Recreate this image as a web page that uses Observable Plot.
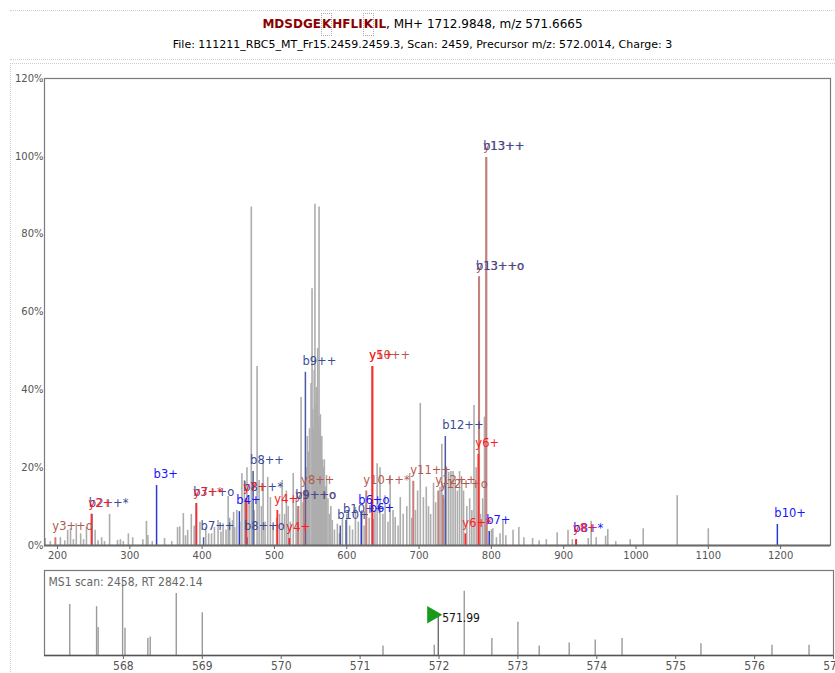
<!DOCTYPE html>
<html><head><meta charset="utf-8">
<script src="https://cdn.jsdelivr.net/npm/d3@7"></script>
<script src="https://cdn.jsdelivr.net/npm/@observablehq/plot@0.6"></script>
<style>
body{margin:0;background:#fff;font-family:"DejaVu Sans",sans-serif;}
#wrap{position:relative;width:835px;height:673px;overflow:hidden;background:#fff;}
#hdr{position:absolute;left:10px;top:10px;width:840px;height:48px;border-top:1px dotted #ccc;border-bottom:1px dotted #ccc;}
#bodybox{position:absolute;left:10px;top:63px;width:840px;height:640px;border-top:1px dotted #ccc;border-left:1px dotted #ccc;}
#title{position:absolute;left:0;width:845px;top:17px;text-align:center;font-size:12px;color:#000;white-space:nowrap;}
#title .seq{color:#8b0000;font-weight:bold;}
#title .mod{border:1px dotted #aaa;padding:3px 0px 4px 0px;}
#sub{position:absolute;left:0;width:845px;top:38px;text-align:center;font-size:11px;color:#000;white-space:nowrap;}
#main{position:absolute;left:0;top:63px;}
#ms1{position:absolute;left:0;top:565px;}
</style>
</head><body>
<div id="wrap">
  <div id="hdr"></div>
  <div id="bodybox"></div>
  <div id="title"><span class="seq">MDSDGE<span class="mod">K</span>HFLI<span class="mod">K</span>IL</span>, MH+ 1712.9848, m/z 571.6665</div>
  <div id="sub">File: 111211_RBC5_MT_Fr15.2459.2459.3, Scan: 2459, Precursor m/z: 572.0014, Charge: 3</div>
  <div id="main"></div>
  <div id="ms1"></div>
</div>
<script>
// ---------- MS2 spectrum: unannotated peaks ----------
const grayMz = [183,190,204,210,214,218,222,226,232,236,240,252,256,261,265,272,283,287,291,298,304,318,323,325,331,348,358,366,369,374,377,380,385,389,397,405,409,413,417,422,426,429,433,436,438,442,443.5,445,448,452,455,458.5,462,465,468,472,476,478.8,482,484.3,487,490.7,494.4,498,503,507,510.6,514,516.5,519,522,526,530,533,536.8,539.5,544,545.5,547,548.5,550.6,552,553,554,555,556,557,558,559,559.8,560.8,561.7,562.6,563.5,564.5,565.5,566.5,567.5,569,570.5,572,574,576,578,580,583,587,590,594,600,604,608,612,616,621,624,627,631,639,642,646,650,653,657,660,664,667,671,674,678,683,687,690,695,698,701.7,706,710,713,716,720,723,729,731.5,734,738,741,744,747,750,753,756,759,761.5,766,770,773,776,779,785,788,790.5,794,800,802,807,812,816,820,830,838,845,857,866,876,891,906,912,934,938,945,958,961,972,992,1010,1057,1100];
const grayInt = [1.8,1.0,2.0,1.2,3.9,4.3,1.5,5.6,3.0,1.5,4.6,3.9,1.2,2.0,1.0,8.0,1.3,1.5,1.0,3.0,2.0,1.5,6.2,2.6,1.0,1.8,1.0,4.6,4.8,8.2,2.5,3.9,8.0,5.0,6.0,4.6,3.0,3.0,4.6,6.4,3.5,5.6,4,12.6,7,6.4,8.5,4.6,9,6,18.5,16.7,20,11,87,9,46,16.7,10,21.8,6,17.5,12.3,5,7,8,16.7,8,14,10,6,18.5,12,9,38,11,20,28,24,30,41.6,66,35,30,45,87.7,36,40.6,32,50.6,33,87,30,33.6,25,28,22,20,22,15,18,12,8,10,6.4,4,5.5,3,7,8,5,4,9.8,6,9,5,10.8,7,9,21,20,8,12.8,6,18,9,7.2,5,12.3,8,10,18.5,7,9,14,36.5,12.3,15,10,8,16,11,15,26,12,20,18.8,19,19,16.7,14,19,17,14,10,12,9,36,20,8,12,33,6,4,4.3,2,3,6.4,2.5,3.9,4.6,2,1.8,1.2,1.5,3.3,3.9,1.5,1.8,6.2,2,2.4,4.1,1,1.5,4.3,12.8,4.3];

// ---------- MS2 spectrum: annotated fragment ions ----------
const annLabel = ["y3++o","y9++o","y8++","y10++*","y10++","y11++","y12++","y12++o","y13++o","y13++",
                  "b2++*","b7++o","b7++","b8++*","b8++o","b8++","b9++o","b9++","b10+","b10++","b12++","b13++o","b13++",
                  "b3+","b4+","b6+o","b6+","b7+","b8+*","b10+",
                  "y2+","y3+*","y7+","y4+","y4+","y5+","y6+*","y6+","y8+"];
const annMz = [197,533,541,627,635.4,692,726.6,733,783,793,
               247.5,392,402,461,462,470.5,533,542.8,591,599,736.3,783,793,
               337,451.5,620,636,797,917.5,1195.5,
               247,392,461,504,520.6,635.4,764,782,917];
const annInt = [2,10,14,14,46,16.5,14,12.9,69,99.7,
                8,10.8,2,12,2,19,10,44.5,5,6.4,28,69,99.7,
                15.4,8.7,8.7,6.7,3.6,1.5,5.4,
                8,10.8,12,9,1.8,46,3,23.4,1.5];
const annType = ["y++","y++","y++","y++","y++","y++","y++","y++","y++","y++",
                 "b++","b++","b++","b++","b++","b++","b++","b++","b++","b++","b++","b++","b++",
                 "b+","b+","b+","b+","b+","b+","b+",
                 "y+","y+","y+","y+","y+","y+","y+","y+","y+"];
const typeColor = {"b+":"#1515ff","b++":"#3a4b98","y+":"#ff1a1a","y++":"#b35a50"};
const lineColor = {"b+":"#2a3ad0","b++":"#4a5aa0","y+":"#ff2a2a","y++":"#c98078"};
const lineWidth = {"b+":1.5,"b++":1.5,"y+":1.8,"y++":2};
const lineOrder = ["b++","b+","y++","y+"];

const mainTicks = [200,300,400,500,600,700,800,900,1000,1100,1200];
const yTicks = [0,20,40,60,80,100,120];

// ---------- MS1 precursor scan ----------
const ms1Mz = [567.32,567.66,567.68,567.99,568.02,568.31,568.34,568.67,569.0,571.29,571.94,572.32,572.67,573.0,573.27,573.65,573.98,574.32,575.32,576.22,576.69];
const ms1Int = [0.69,0.66,0.38,1.0,0.37,0.23,0.25,0.84,0.58,0.13,0.14,0.87,0.23,0.45,0.13,0.17,0.21,0.23,0.16,0.14,0.14];
const precMz = [571.99];
const precInt = [0.55];
const precLabel = ["571.99"];
const ms1Ticks = [568,569,570,571,572,573,574,575,576,577];
const ms1Info = "MS1 scan: 2458, RT 2842.14";

// ---------- build ----------
const gray = grayMz.map((m,i)=>({mz:m, int:grayInt[i]}));
const ann = annLabel.map((l,i)=>({label:l, mz:annMz[i], int:annInt[i], type:annType[i]}));
const annLines = lineOrder.flatMap(t => ann.filter(d=>d.type===t));

const main = Plot.plot({
  width: 835, height: 502,
  marginLeft: 44, marginRight: 5, marginTop: 15, marginBottom: 20,
  x: {domain:[182,1269], axis:null},
  y: {domain:[0,120], axis:null},
  style: {background:"transparent", fontFamily:"DejaVu Sans, sans-serif", fontSize:"10px", color:"#555", overflow:"visible"},
  marks: [
    Plot.ruleX(gray, {x:"mz", y1:0, y2:"int", stroke:"#adadad", strokeWidth:1.6}),
    Plot.ruleX(annLines, {x:"mz", y1:0, y2:"int", stroke:d=>lineColor[d.type], strokeWidth:d=>lineWidth[d.type]}),
    Plot.text(ann, {x:"mz", y:"int", text:"label", fill:d=>typeColor[d.type], textAnchor:"start", lineAnchor:"middle", dx:-3, dy:-11, fontSize:11.5}),
    Plot.frame({stroke:"#7a7a7a", strokeWidth:1.2}),
    Plot.ruleY([0], {stroke:"#6a6a6a", strokeWidth:2}),
    Plot.axisX({ticks:mainTicks, tickSize:4, tickPadding:2, tickFormat:d=>String(d), label:null, stroke:"#666", fill:"#555"}),
    Plot.axisY({ticks:yTicks, tickSize:0, tickPadding:1, tickFormat:d=>d+"%", label:null, fill:"#555"})
  ]
});
document.getElementById("main").appendChild(main);

const ms1 = ms1Mz.map((m,i)=>({mz:m, int:ms1Int[i]}));
const prec = precMz.map((m,i)=>({mz:m, int:precInt[i], label:precLabel[i]}));
const narrow = "'Liberation Sans Narrow','DejaVu Sans Condensed','Arial Narrow',sans-serif";
const ms1Plot = Plot.plot({
  width: 835, height: 108,
  marginLeft: 44, marginRight: 2, marginTop: 5, marginBottom: 18,
  x: {domain:[567,577], axis:null},
  y: {domain:[0,1.15], axis:null},
  style: {background:"transparent", fontFamily:narrow, fontSize:"11px", color:"#555", overflow:"visible"},
  marks: [
    Plot.ruleX(ms1, {x:"mz", y1:0, y2:"int", stroke:"#9a9a9a", strokeWidth:1.4}),
    Plot.ruleX(prec, {x:"mz", y1:0, y2:"int", stroke:"#333", strokeWidth:1}),
    Plot.dot(prec, {x:"mz", y:"int", symbol:"triangle", rotate:90, r:6.5, fill:"#1a9a1a", stroke:"none", dx:-6}),
    Plot.text(prec, {x:"mz", y:"int", text:"label", textAnchor:"start", dx:4, dy:3, fill:"#111", fontSize:12}),
    Plot.text([ms1Info], {frameAnchor:"top-left", text:d=>d, dx:4, dy:7, fill:"#666", fontSize:12}),
    Plot.frame({stroke:"#7a7a7a", strokeWidth:1.2}),
    Plot.ruleY([0], {stroke:"#555", strokeWidth:1.6}),
    Plot.axisX({ticks:ms1Ticks, tickSize:4, tickPadding:2, tickFormat:d=>String(d), label:null, stroke:"#666", fill:"#555", fontSize:12})
  ]
});
document.getElementById("ms1").appendChild(ms1Plot);
</script>
</body></html>
